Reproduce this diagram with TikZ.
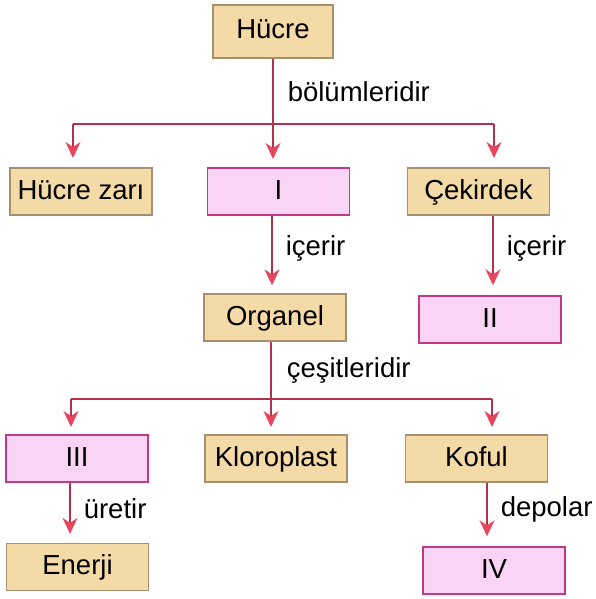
\documentclass[tikz,border=0pt]{standalone}
\usepackage{fontspec}
\setmainfont{Liberation Sans}
\usetikzlibrary{arrows.meta,positioning}

\definecolor{tanfill}{HTML}{F4DAA6}
\definecolor{tanline}{HTML}{A8906E}
\definecolor{pinkfill}{HTML}{FAD4F4}
\definecolor{pinkline}{HTML}{C23A86}
\definecolor{linkline}{HTML}{B3304E}
\definecolor{linktip}{HTML}{E6475F}

\tikzset{
  concept/.style={draw=tanline, fill=tanfill, line width=1.2pt,
    minimum width=142pt, minimum height=47pt, inner sep=0pt,
    text height=20pt, text depth=5pt},
  unknown/.style={draw=pinkline, fill=pinkfill, line width=1.4pt,
    minimum width=142pt, minimum height=47pt, inner sep=0pt,
    text height=20pt, text depth=5pt},
  link/.style={draw=linkline, line width=1.6pt},
  arr/.style={link, -{Stealth[length=16pt,width=15pt,inset=5pt,color=linktip]}},
  lbl/.style={right, inner sep=0pt, xshift=13pt}
}

\begin{document}
\begin{tikzpicture} [x=1pt,y=-1pt,node distance=200pt,font=\fontsize{27.5}{32}\selectfont]

  \useasboundingbox (0,0) rectangle (595,599);

  \node[concept] (hucre) [minimum width=120pt, minimum height=53pt] at (273,31.5) {Hücre};
  \node[unknown] (one) [below of=hucre, node distance=160pt, xshift=5.5pt] {I};
  \node[concept] (zar) [left of=one, node distance=197.5pt] {Hücre zarı};
  \node[concept] (cekirdek) [right of=one] {Çekirdek};
  \node[concept] (organel) [below of=one, node distance=126pt, xshift=-3.5pt] {Organel};
  \node[unknown] (two) [below of=cekirdek, node distance=128pt, xshift=11.5pt] {II};
  \node[concept] (kloroplast) [below of=organel, node distance=141pt, xshift=1pt] {Kloroplast};
  \node[unknown] (three) [left of=kloroplast, node distance=199pt] {III};
  \node[concept] (koful) [right of=kloroplast, node distance=200.5pt] {Koful};
  \node[concept] (enerji) [below of=three, node distance=108.5pt, xshift=0.5pt] {Enerji};
  \node[unknown] (four) [below of=koful, node distance=112pt, xshift=17.5pt] {IV};

  % bus lines
  \coordinate (bustop) at (273,124);
  \coordinate (busbot) at (271,399);

  \draw[link] (hucre.south) -- node[lbl, xshift=1pt] {bölümleridir} (bustop);
  \draw[link] (73,124) -- (494,124);
  \draw[arr] (73,124) -- (73,158);
  \draw[arr] (bustop) -- (bustop |- 0,159);
  \draw[arr] (494,124) -- (494,158);

  \draw[arr] ([xshift=-6.5pt]one.south) -- node[lbl, yshift=2pt] {içerir} ([xshift=-3pt,yshift=8pt]organel.north);
  \draw[arr] ([xshift=14.5pt]cekirdek.south) -- node[lbl, yshift=2pt] {içerir} ([xshift=3pt,yshift=10pt]two.north);

  \draw[link] (organel.south -| busbot) -- node[lbl, xshift=2pt] {çeşitleridir} (busbot);
  \draw[link] (71,399) -- (492,399);
  \draw[arr] (71,399) -- (71,427);
  \draw[arr] (busbot) -- (busbot |- 0,427);
  \draw[arr] (492,399) -- (492,427);

  \draw[arr] ([xshift=-7pt]three.south) -- node[lbl] {üretir} ([xshift=-7.5pt,yshift=9pt]enerji.north);
  \draw[arr] ([xshift=10.5pt]koful.south) -- node[lbl] {depolar} ([xshift=-7pt,yshift=10pt]four.north);
\end{tikzpicture}
\end{document}
